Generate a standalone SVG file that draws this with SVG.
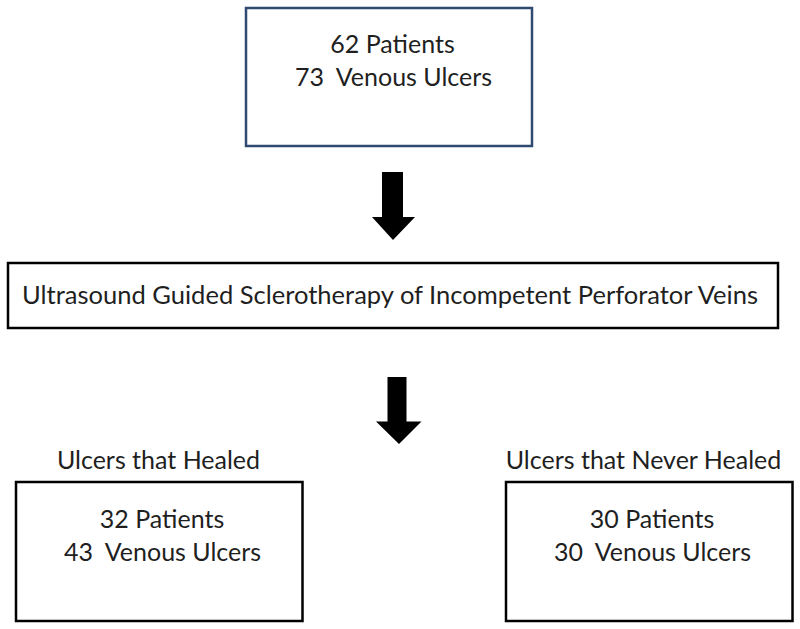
<svg xmlns="http://www.w3.org/2000/svg" width="800" height="629" viewBox="0 0 800 629">
<style>
.box{fill:#fff;stroke:#000;stroke-width:2.5}
.blue{stroke:#2e4a70}
text{font-family:Lato,"Open Sans",sans-serif;font-size:25px;fill:#1f1f1f;white-space:pre}
.c{text-anchor:middle}
.arrow{fill:#000}
</style>
<rect width="800" height="629" fill="#fff"/>
<g id="start">
<rect class="box blue" x="246" y="8" width="286" height="138"/>
<text class="c" x="392.5" y="53" xml:space="preserve">62 Patients</text>
<text class="c" x="393.5" y="86" xml:space="preserve">73  Venous Ulcers</text>
</g>
<g id="treatment">
<rect class="box" x="8" y="263" width="770" height="65"/>
<text x="22" y="304" textLength="736" lengthAdjust="spacingAndGlyphs" xml:space="preserve">Ultrasound Guided Sclerotherapy of Incompetent Perforator Veins</text>
</g>
<g id="healed">
<text class="c" x="158.5" y="469" xml:space="preserve">Ulcers that Healed</text>
<rect class="box" x="16" y="482" width="286.5" height="139"/>
<text class="c" x="162" y="528" xml:space="preserve">32 Patients</text>
<text class="c" x="162.5" y="561" xml:space="preserve">43  Venous Ulcers</text>
</g>
<g id="never-healed">
<text class="c" x="643.5" y="469" xml:space="preserve">Ulcers that Never Healed</text>
<rect class="box" x="506" y="482" width="286.5" height="139"/>
<text class="c" x="652" y="528" xml:space="preserve">30 Patients</text>
<text class="c" x="652.5" y="561" xml:space="preserve">30  Venous Ulcers</text>
</g>
<g id="connectors">
<path class="arrow" d="M382,172 H403 V217 H415 L393,240 L372,217 H382 Z"/>
<path class="arrow" d="M387.5,377 H406.5 V421.5 H421.5 L399,444 L376,421.5 H387.5 Z"/>
</g>
</svg>
